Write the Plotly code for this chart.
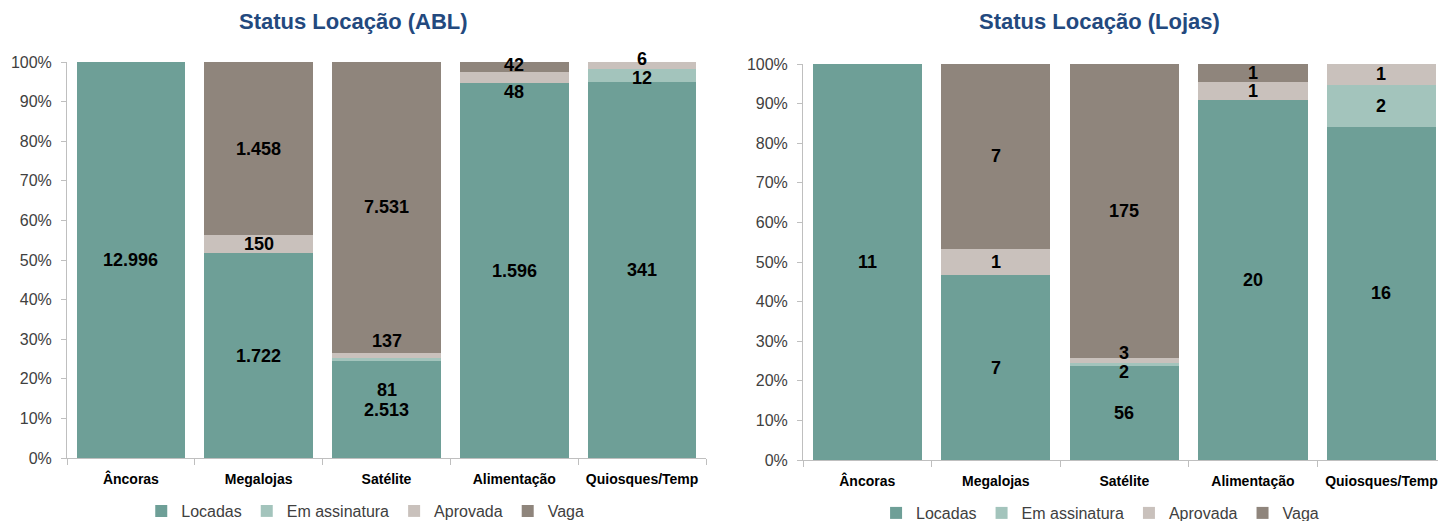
import plotly.graph_objects as go

categories = ["Âncoras", "Megalojas", "Satélite", "Alimentação", "Quiosques/Temp"]
series_names = ["Locadas", "Em assinatura", "Aprovada", "Vaga"]

abl_locadas = [12996, 1722, 2513, 1596, 341]
abl_em_assinatura = [0, 0, 81, 0, 12]
abl_aprovada = [0, 150, 137, 48, 6]
abl_vaga = [0, 1458, 7531, 42, 0]

lojas_locadas = [11, 7, 56, 20, 16]
lojas_em_assinatura = [0, 0, 2, 0, 2]
lojas_aprovada = [0, 1, 3, 1, 1]
lojas_vaga = [0, 7, 175, 1, 0]

colors = ["#6E9F97", "#A3C4BC", "#C9C1BC", "#8F857C"]
title_color = "#23497E"
tick_color = "#404040"
axis_color = "#BFBFBF"
FONT = "Liberation Sans"

# small label nudges (px) for crowded segments: (chart, category index, series index) -> yshift
label_shift = {
    ("abl", 2, 1): -31, ("abl", 2, 2): 14,
    ("abl", 3, 2): -15, ("abl", 3, 3): 2,
    ("abl", 4, 1): -3, ("abl", 4, 2): 6,
    ("lojas", 2, 1): -8, ("lojas", 2, 2): 7,
}

fig = go.Figure()

charts = [
    ("abl", [abl_locadas, abl_em_assinatura, abl_aprovada, abl_vaga], "x", "y", "legend"),
    ("lojas", [lojas_locadas, lojas_em_assinatura, lojas_aprovada, lojas_vaga], "x2", "y2", "legend2"),
]

annotations = []
for key, data, xa, ya, leg in charts:
    for si, (name, vals) in enumerate(zip(series_names, data)):
        fig.add_trace(go.Bar(
            x=categories, y=vals, name=name, marker=dict(color=colors[si], line=dict(width=0)),
            xaxis=xa, yaxis=ya, legend=leg,
        ))
    totals = [sum(col) for col in zip(*data)]
    for ci, cat in enumerate(categories):
        cum = 0.0
        for si in range(len(series_names)):
            v = data[si][ci]
            pct = v / totals[ci] * 100
            if v > 0:
                annotations.append(dict(
                    x=cat, y=cum + pct / 2, xref=xa, yref=ya, showarrow=False,
                    text=f"{v:,}".replace(",", "."),
                    font=dict(family=FONT, size=18, color="#000000", weight="bold"),
                    yshift=label_shift.get((key, ci, si), 0),
                ))
            cum += pct

def xaxis_style(domain, rng):
    return dict(domain=domain, range=rng, type="category", showline=True, linecolor=axis_color,
                linewidth=1, ticks="outside", tickson="boundaries", ticklen=6, tickcolor=axis_color,
                ticklabelstandoff=8,
                tickfont=dict(family=FONT, size=14, color="#000000", weight="bold"),
                showgrid=False, zeroline=False, automargin=False, fixedrange=True)

def yaxis_style(domain, anchor):
    return dict(domain=domain, anchor=anchor, range=[0, 100], dtick=10, ticksuffix="%",
                showline=True, linecolor=axis_color, linewidth=1, ticks="outside", ticklen=5,
                tickcolor=axis_color, ticklabelstandoff=6,
                tickfont=dict(family=FONT, size=16, color=tick_color),
                showgrid=False, zeroline=False, automargin=False, fixedrange=True)

W, H = 1438, 521
fig.update_layout(
    width=W, height=H, barmode="stack", barnorm="percent", bargap=0.15,
    paper_bgcolor="white", plot_bgcolor="white",
    margin=dict(l=0, r=0, t=0, b=0, autoexpand=False),
    xaxis=xaxis_style([67 / W, 706 / W], [-0.5, 4.5]) | dict(anchor="y"),
    yaxis=yaxis_style([1 - 458 / H, 1 - 62 / H], "x"),
    xaxis2=xaxis_style([803 / W, 1.0], [-0.5, 4.44]) | dict(anchor="y2"),
    yaxis2=yaxis_style([1 - 460 / H, 1 - 64 / H], "x2"),
    legend=dict(orientation="h", x=0.254, xanchor="center", y=10 / H, yanchor="middle",
                font=dict(family=FONT, size=16, color=tick_color), traceorder="normal",
                itemclick=False, bgcolor="rgba(0,0,0,0)"),
    legend2=dict(orientation="h", x=0.765, xanchor="center", y=8 / H, yanchor="middle",
                 font=dict(family=FONT, size=16, color=tick_color), traceorder="normal",
                 itemclick=False, bgcolor="rgba(0,0,0,0)"),
    annotations=annotations + [
        dict(text="Status Locação (ABL)", x=353 / W, y=1 - 22 / H, xref="paper", yref="paper",
             showarrow=False, xanchor="center", yanchor="middle",
             font=dict(family=FONT, size=22, color=title_color, weight="bold")),
        dict(text="Status Locação (Lojas)", x=1099 / W, y=1 - 22 / H, xref="paper", yref="paper",
             showarrow=False, xanchor="center", yanchor="middle",
             font=dict(family=FONT, size=22, color=title_color, weight="bold")),
    ],
)

fig.write_html("out.html", config={"displayModeBar": False},
               post_script="document.body.style.margin='0';")
